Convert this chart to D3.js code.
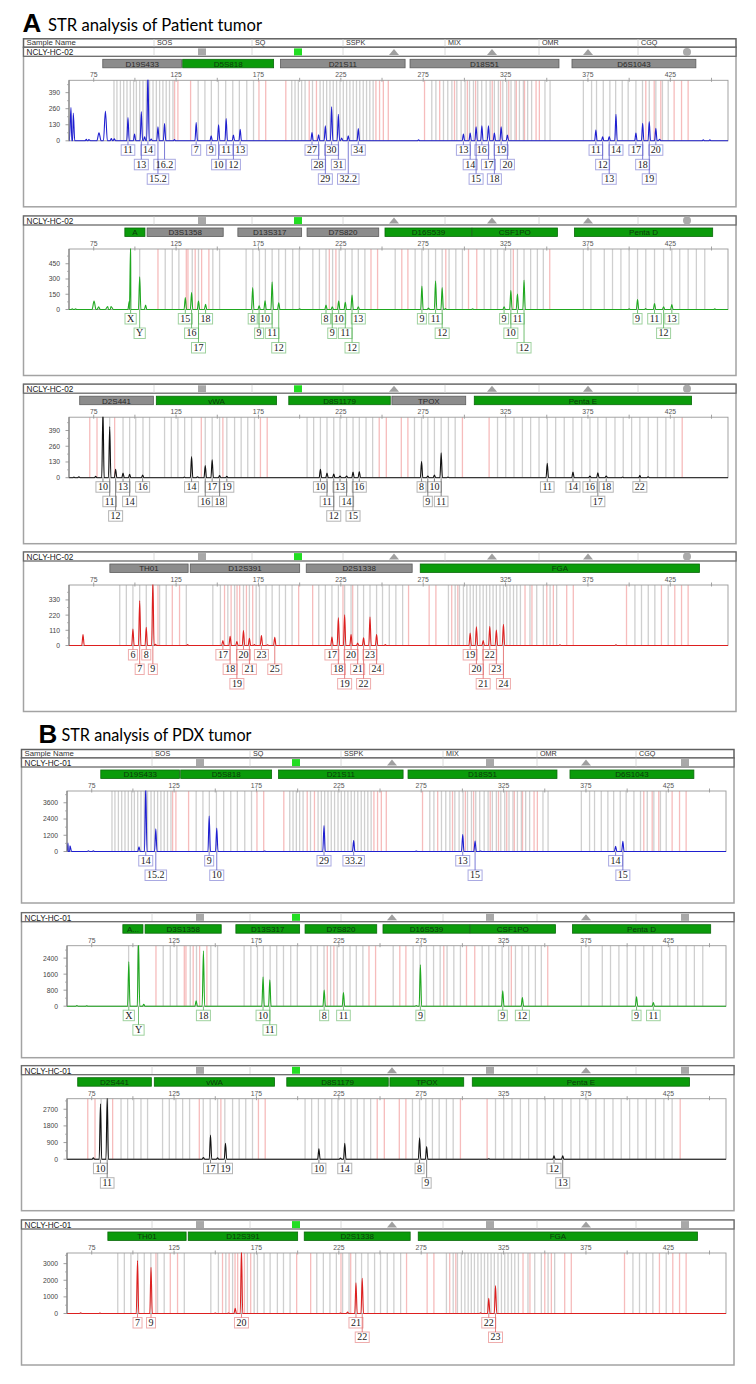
<!DOCTYPE html>
<html><head><meta charset="utf-8">
<script src="https://cdn.jsdelivr.net/npm/d3@7"></script>
<style>body{margin:0;background:#fff}svg{display:block}</style>
</head><body>
<svg id="c" width="756" height="1384"></svg>
<script>
// ---------------- DATA ----------------
const headerCols = ["SOS","SQ","SSPK","MIX","OMR","CGQ"];
const headerFlagsA = ["sqGrey","sqGreen","tri","tri","tri","circle"];
const headerFlagsB = ["sqGrey","sqGreen","tri","sqGrey","tri","sqGrey"];
const xTickLabels = [75,125,175,225,275,325,375,425];
const xTickMinor = [100,150,200,250,300,350,400,450];

// loci: [name, start bp, end bp]
const lociBlue  = [["D19S433",80.5,128.3],["D5S818",129,184.2],["D21S11",188.4,264],["D18S51",267,357.4],["D6S1043",365.3,440.5]];
const lociGreen = [["A",93.9,106.1],["D3S1358",107.4,153.6],["D13S317",162.5,201.2],["D7S820",204.5,248],["D16S539",251.8,304.5],["CSF1PO",304.7,356.5],["Penta D",366.8,450.7]];
const lociBlack = [["D2S441",66.5,111.2],["vWA",113,186],["D8S1179",193.4,255],["TPOX",256,300.8],["Penta E",306,437.9]];
const lociRed   = [["TH01",84.8,132.3],["D12S391",133.6,200],["D2S1338",204,268.3],["FGA",273.2,442.7]];
const passedA1 = ["D5S818"];
const passedA2 = ["A","D16S539","CSF1PO","Penta D"];
const passedA3 = ["vWA","D8S1179","Penta E"];
const passedA4 = ["FGA"];
const shortNamesB = {"A":"A..."};

// allele bins (bp)
const binsBlueGrey = [87.3,89.1,91.2,93.2,95.2,97.2,99.2,100.9,102.9,104.9,106.9,108.9,111,113,115,117,119,121,123.1,
  138.4,142.5,146.4,150.7,155.1,159.4,163.4,167.9,172,
  195.2,197.2,199.2,201.2,203.3,207.8,212.4,214.4,216.4,218.4,220.4,222.4,224.5,226.5,228.5,230.5,232.5,234.5,236.5,238.6,240.6,242.6,244.6,
  280.2,282.7,287.3,289.9,292.4,295.4,298,300.4,303.1,305.5,308.1,310.5,313.2,315.6,318.2,320.6,323.3,325.7,328.3,330.7,333.4,335.8,338.4,340.8,348.9,352,
  372.2,377.2,380.2,384.3,388.3,391.8,395.8,399.4,404.1,408.1,412.2,416.2,420.2,423.7];
const binsBluePink = [124.1,126.1,133.8,175.3,179.4,191.6,205.8,210.2,246.3,248.5,250.8,253.8,
  275.8,285,294,301.8,306.8,316.9,321.9,326.9,331.5,336.5,343.5,345.5,410.1,415.2,419.2,427.3,431.8,435.8];
const binsGreenGrey = [97.4,102.9,118.4,122.7,126.7,134.8,138.6,147.3,151.4,167.5,171.6,175.6,179.2,183.3,187.3,191.4,195.8,199.8,
  208,212,216,220,224,227.7,231.8,235.6,239.6,258,270.1,274.2,278.2,282.5,286.5,290.7,294.8,298.8,
  312,316,320.1,324.1,328.1,332.2,336.2,340.2,344.3,347.9,372.2,376.8,384.9,389.9,395,400,405.1,410.1,415.4,420.9,425.9,430.7,435.8,440.8,445.9];
const binsGreenPink = [114,131.2,132.2,136.6,140.5,144.9,218,222,243.3,247.3,262,265.7,288.7,302.5,307.5,329.7,351.8];
const binsBlackGrey = [80.7,84.7,92.8,96.8,100.5,104.9,108.9,118,122.1,126.1,130.2,134.4,142.7,146.9,151.4,155.8,160.5,164.5,168.5,172.6,
  204.5,208.5,212.6,216.6,220.7,224.5,228.5,232.4,236.2,240.3,244.3,269.7,274,277.8,281.8,285.9,290.3,294.4,
  320.1,325.1,330.1,335.2,340.2,345.3,350.3,355.4,360.6,365.9,371.2,376.2,381,386.1,391.4,396.4,401.5,406.5,411.6,417.2,422.3,427.3];
const binsBlackPink = [72.6,77,87.7,140.3,153.4,176.2,180.3,248.3,252.6,261.7,265.7,298.8,315,432.2];
const binsRedGrey = [90.8,94.8,98.8,102.9,106.9,110.9,115,119,131.2,147.3,151.9,156.4,160.5,165.9,169.5,173.6,175.6,179.6,183.3,187.7,191.4,195.4,
  211.6,215.6,219.6,223.5,227.3,231.2,235.2,238.8,242.7,246.7,250.3,254.4,258.4,262.5,
  290.3,294.4,297,299.4,301.5,303.5,305.4,307.3,309.4,311.4,313.4,315.4,317.4,319.4,321.6,323.7,325.7,327.7,329.8,331.8,334,339.8,343.9,347.9,352,356,
  403.5,407.5,411.6,415.6,423.7];
const binsRedPink = [114,122.7,127.1,154.4,158.4,162,163.6,167.7,171.5,199.4,207.9,226.3,232.2,266.1,278.6,282.7,292.3,296,336.8,341,350,354,362.1,366.1,398.4,419.6,427.7,431.8,435.8];

// peaks: [bp, height, (half-width bp)]
const peaksA1 = [[61.2,270,1],[62.6,225,0.9],[70.6,12,1],[72,10,1],[78.2,65,1.3],[82.1,240,1.2],[85.7,18,0.8],[87.5,16,0.8],[95.8,188],[99.8,54],[103.9,236],[105.9,32],[107.9,560],[109.9,15],[114,113],[118,139],[124,10],[137.2,147],[146.3,40],[150.8,129],[155.4,180],[159.8,46],[163.9,94],[207.5,67],[211.5,48],[215.6,121],[219.4,276],[223.5,214],[225.5,22],[229.5,40],[235.6,99],[272.2,8],[299.4,54],[303.5,62],[307.1,113],[310.6,121],[314.6,121],[318.2,62],[322.3,113],[326.1,46],[379.8,88],[383.9,32],[387.9,35],[392,214],[404.1,62],[408.2,142],[412.2,155],[416.2,102],[418.5,12],[445,8],[449,8]];
const peaksA2 = [[62,8],[64,8],[75.2,82,1.2],[78,26,1],[83.5,30,1.5],[85.5,30,1.5],[96.6,80,0.9],[97.4,640],[102.9,321],[106.5,43],[130.6,118],[134.4,167],[138.6,82],[142.9,52],[171.5,216],[175.4,36],[179,85],[183.3,272],[187.3,66],[200,8],[216,43],[219.8,26],[223.7,82],[227.7,72],[231.8,141],[235.6,26],[274.2,230],[278.2,15],[282.5,282],[286.5,216],[288.5,10],[305,8],[324.1,26],[328.2,190],[332.2,151],[336.2,289],[400,8],[405.1,98],[410,10],[415.4,59],[420.9,26],[425.9,49],[452,6]];
const peaksA3 = [[63,6],[66,8],[76.2,12],[80.6,560],[84.7,423],[88.3,69],[92.8,39],[96.8,28],[104.7,22],[130,6],[134.4,174],[138,8],[142.7,100],[146.9,147],[151.4,17],[155.8,11],[212.6,69],[216.6,39],[220.7,30],[224.5,14],[228.5,14],[232.4,47],[236.2,50],[274,133],[277.8,14],[281.8,22],[285.9,205],[290,5],[350.3,119],[365.9,47],[376.2,14],[381,41],[386.1,14],[396,6],[406.5,17],[411.5,8]];
const peaksA4 = [[68.5,79],[98.8,119],[102.9,323],[106.9,131],[110.9,470],[112.5,8],[132,6],[153.4,36],[157.8,67],[161.9,29],[165.9,108],[169.5,53],[172.5,6],[176.8,72],[180.5,5],[184.9,60],[219.6,62],[223.5,203],[227.3,222],[231.2,79],[235.2,17],[238.8,55],[242.7,208],[246.7,79],[252,6],[303.5,91],[307.3,136],[311.4,36],[315.4,139],[319.4,112],[323.7,153],[358,5],[392,5]];
const peaksB1 = [[60.6,620,1],[61.8,420,1],[73,50],[76,60],[103.7,350],[107.8,4900],[113.9,1675],[146.3,2625],[150.9,1725],[180,40],[216,1925],[234,800],[272,30],[300.2,1250],[307.7,775],[311,40],[393,375],[397.4,750]];
const peaksB2 = [[66,30],[72,25],[97.5,2217],[103.4,3300],[106.6,100],[138.4,267],[142.8,2767],[179,1467],[183.1,1317],[216.1,800],[227.8,683],[272,30],[274.5,2067],[324.5,767],[336.4,433],[405.7,467],[415.9,183]];
const peaksB3 = [[76,80],[80.3,2990],[84.4,3400],[142.8,90],[147.1,1310],[151.4,70],[156.2,864],[212.9,556],[226,60],[228.6,864],[274,1150],[278.3,680],[316,25],[355.6,178],[360.9,178]];
const peaksB4 = [[68.3,40],[80,20],[102.8,3180],[111,2780],[150,20],[158,25],[162.1,320],[165.9,3900],[226,20],[230.3,90],[235.4,1840],[239.2,2120],[311,40],[316,920],[320.1,1680]];

// allele calls: [allele, bp, row]
const callsA1 = [["11",95.8,1],["13",103.9,2],["14",107.9,1],["16.2",118,2],["15.2",114,3],
  ["7",137.2,1],["9",146.3,1],["10",150.8,2],["11",155.4,1],["12",159.8,2],["13",163.9,1],
  ["27",207.5,1],["28",211.5,2],["29",215.6,3],["30",219.4,1],["31",223.5,2],["32.2",229.5,3],["34",235.6,1],
  ["13",299.4,1],["14",303.5,2],["15",307.1,3],["16",310.6,1],["17",314.6,2],["18",318.2,3],["19",322.3,1],["20",326.1,2],
  ["11",379.8,1],["12",383.9,2],["13",387.9,3],["14",392,1],["17",404.1,1],["18",408.2,2],["19",412.2,3],["20",416.2,1]];
const callsA2 = [["X",97.4,1],["Y",102.9,2],["15",130.6,1],["16",134.4,2],["17",138.6,3],["18",142.9,1],
  ["8",171.5,1],["9",175.4,2],["10",179,1],["11",183.3,2],["12",187.3,3],
  ["8",216,1],["9",219.8,2],["10",223.7,1],["11",227.7,2],["12",231.8,3],["13",235.6,1],
  ["9",274.2,1],["11",282.5,1],["12",286.5,2],["9",324.1,1],["10",328.2,2],["11",332.2,1],["12",336.2,3],
  ["9",405.1,1],["11",415.4,1],["12",420.9,2],["13",425.9,1]];
const callsA3 = [["10",80.6,1],["11",84.7,2],["12",88.3,3],["13",92.8,1],["14",96.8,2],["16",104.7,1],
  ["14",134.4,1],["16",142.7,2],["17",146.9,1],["18",151.4,2],["19",155.8,1],
  ["10",212.6,1],["11",216.6,2],["12",220.7,3],["13",224.5,1],["14",228.5,2],["15",232.4,3],["16",236.2,1],
  ["8",274,1],["9",277.8,2],["10",281.8,1],["11",285.9,2],
  ["11",350.3,1],["14",365.9,1],["16",376.2,1],["17",381,2],["18",386.1,1],["22",406.5,1]];
const callsA4 = [["6",98.8,1],["7",102.9,2],["8",106.9,1],["9",110.9,2],
  ["17",153.4,1],["18",157.8,2],["19",161.9,3],["20",165.9,1],["21",169.5,2],["23",176.8,1],["25",184.9,2],
  ["17",219.6,1],["18",223.5,2],["19",227.3,3],["20",231.2,1],["21",235.2,2],["22",238.8,3],["23",242.7,1],["24",246.7,2],
  ["19",303.5,1],["20",307.3,2],["21",311.4,3],["22",315.4,1],["23",319.4,2],["24",323.7,3]];
const callsB1 = [["14",107.8,1],["15.2",113.9,2],["9",146.3,1],["10",150.9,2],["29",216,1],["33.2",234,1],["13",300.2,1],["15",307.7,2],["14",393,1],["15",397.4,2]];
const callsB2 = [["X",97.5,1],["Y",103.4,2],["18",142.8,1],["10",179,1],["11",183.1,2],["8",216.1,1],["11",227.8,1],["9",274.5,1],["9",324.5,1],["12",336.4,1],["9",405.7,1],["11",415.9,1]];
const callsB3 = [["10",80.3,1],["11",84.4,2],["17",147.1,1],["19",156.2,1],["10",212.9,1],["14",228.6,1],["8",274,1],["9",278.3,2],["12",355.6,1],["13",360.9,2]];
const callsB4 = [["7",102.8,1],["9",111,1],["20",165.9,1],["21",235.4,1],["22",239.2,2],["22",316,1],["23",320.1,2]];

// y axis tick labels and top of scale
const yTicksA1 = [0,130,260,390], yMaxA1 = 490;
const yTicksA2 = [0,150,300,450], yMaxA2 = 595;
const yTicksA3 = [0,130,260,390], yMaxA3 = 500;
const yTicksA4 = [0,110,220,330], yMaxA4 = 438;
const yTicksB1 = [0,1200,2400,3600], yMaxB1 = 4470;
const yTicksB2 = [0,800,1600,2400], yMaxB2 = 3020;
const yTicksB3 = [0,900,1800,2700], yMaxB3 = 3270;
const yTicksB4 = [0,1000,2000,3000], yMaxB4 = 3640;

// ---------------- STYLE ----------------
const dyes = {
  blue:  {trace:"#1f1fd0", box:"#a9a9e2", link:"#5b5bcc"},
  green: {trace:"#1fa81f", box:"#9fd29f", link:"#4fae4f"},
  black: {trace:"#111111", box:"#b4b4b4", link:"#666666"},
  red:   {trace:"#dd1f1f", box:"#efadad", link:"#e06060"}
};
const SANS = "'Liberation Sans', Arial, sans-serif";
const SERIF = "'Liberation Serif', 'Times New Roman', serif";

const svg = d3.select("#c");
let clipId = 0;

function headerMark(g, kind, cx, cy) {
  if (kind === "sqGrey") g.append("rect").attr("x",cx-4).attr("y",cy-3.5).attr("width",8).attr("height",7).attr("fill","#a8a8a8");
  else if (kind === "sqGreen") g.append("rect").attr("x",cx-4).attr("y",cy-3.5).attr("width",8).attr("height",7).attr("fill","#22dd22");
  else if (kind === "tri") g.append("path").attr("d",`M${cx-5},${cy+3}L${cx},${cy-3}L${cx+5},${cy+3}Z`).attr("fill","#a0a0a0");
  else g.append("circle").attr("cx",cx).attr("cy",cy).attr("r",4).attr("fill","#aaaaaa");
}

function drawPanel(p) {
  const g = svg.append("g");
  const T = p.T;
  const colX = [154,252,343,445,539,638].map(v=>v+p.dx);
  const markX = [202,298,394,492,588,687].map(v=>v+p.dx);
  const x = d3.scaleLinear().domain([60,460]).range([p.px0,p.px1]);
  const yTop = T+33, yBase = T+93.5;
  const y = d3.scaleLinear().domain([0,p.yMax]).range([yBase,yTop]);

  // outer panel box
  g.append("rect").attr("x",p.x0).attr("y",T).attr("width",p.x1-p.x0).attr("height",p.H)
    .attr("fill","none").attr("stroke","#a3a3a3").attr("stroke-width",1.5);

  // sample-name header (first panel only)
  if (p.first) {
    g.append("rect").attr("x",p.x0).attr("y",T-8.5).attr("width",p.x1-p.x0).attr("height",8.5)
      .attr("fill","#fff").attr("stroke","#606060").attr("stroke-width",1.5);
    g.append("text").attr("x",p.x0+3).attr("y",T-2).text("Sample Name")
      .attr("font-family",SANS).attr("font-size",7.8).attr("fill","#333");
    headerCols.forEach((c,i)=>{
      g.append("line").attr("x1",colX[i]).attr("x2",colX[i]).attr("y1",T-8).attr("y2",T).attr("stroke","#d8d8d8");
      g.append("text").attr("x",colX[i]+3).attr("y",T-2).text(c).attr("font-family",SANS).attr("font-size",7.2).attr("fill","#333");
    });
  }
  // sample row
  g.append("rect").attr("x",p.x0).attr("y",T).attr("width",p.x1-p.x0).attr("height",9)
    .attr("fill","#fff").attr("stroke","#6a6a6a").attr("stroke-width",1.3);
  colX.forEach(cx=>g.append("line").attr("x1",cx).attr("x2",cx).attr("y1",T+0.7).attr("y2",T+8.3).attr("stroke","#dadada"));
  g.append("text").attr("x",p.x0+3).attr("y",T+7.8).text(p.sample)
    .attr("font-family",SANS).attr("font-size",8.2).attr("fill","#222");
  p.flags.forEach((f,i)=>headerMark(g,f,markX[i],T+4.6));

  // loci bars
  p.loci.forEach(([name,a,b])=>{
    const ok = p.passed === "all" || p.passed.includes(name);
    g.append("rect").attr("x",x(a)).attr("y",T+12).attr("width",x(b)-x(a)).attr("height",8.5)
      .attr("fill", ok ? "#0b9b0b" : "#8c8c8c").attr("stroke", ok ? "#0a6a0a" : "#5c5c5c").attr("stroke-width",0.8);
    const label = (p.short && p.short[name]) || name;
    g.append("text").attr("x",(x(a)+x(b))/2).attr("y",T+19.3).attr("text-anchor","middle").text(label)
      .attr("font-family",SANS).attr("font-size",8).attr("fill", ok ? "#0c3a0c" : "#2a2a2a");
  });

  // top axis (size ruler)
  xTickLabels.forEach(v=>{
    g.append("text").attr("x",x(v)).attr("y",T+30).attr("text-anchor","middle").text(v)
      .attr("font-family",SANS).attr("font-size",6.8).attr("fill","#555");
  });
  xTickLabels.concat(xTickMinor).forEach(v=>{
    g.append("line").attr("x1",x(v)).attr("x2",x(v)).attr("y1",yTop-2.5).attr("y2",yTop+1.5).attr("stroke","#8a8a8a").attr("stroke-width",0.8);
  });

  // bins
  const bw = 1.3;
  p.binsG.forEach(b=>g.append("line").attr("x1",x(b)).attr("x2",x(b)).attr("y1",yTop).attr("y2",yBase)
    .attr("stroke","#cfcfcf").attr("stroke-width",bw));
  p.binsP.forEach(b=>g.append("line").attr("x1",x(b)).attr("x2",x(b)).attr("y1",yTop).attr("y2",yBase)
    .attr("stroke","#f6bcbc").attr("stroke-width",bw));

  // plot frame
  g.append("rect").attr("x",p.px0).attr("y",yTop).attr("width",p.px1-p.px0).attr("height",yBase-yTop)
    .attr("fill","none").attr("stroke","#9a9a9a").attr("stroke-width",0.9);

  // trace
  const id = "clip"+(clipId++);
  g.append("clipPath").attr("id",id).append("rect").attr("x",p.px0).attr("y",yTop-0.5)
    .attr("width",p.px1-p.px0).attr("height",yBase-yTop+1.5);
  const pts = [[60,0],[460,0]];
  p.peaks.forEach(([bp,h,w])=>{ w = w||0.75; pts.push([bp-w,0],[bp,h],[bp+w,0]); });
  pts.sort((a,b)=>a[0]-b[0]);
  const line = d3.line().x(d=>x(d[0])).y(d=>y(d[1])).curve(d3.curveMonotoneX);
  g.append("path").attr("d",line(pts)).attr("clip-path",`url(#${id})`)
    .attr("fill","none").attr("stroke",dyes[p.dye].trace).attr("stroke-width",1.1);

  // left axis
  const step = p.yTicks[1]-p.yTicks[0];
  g.append("line").attr("x1",p.px0).attr("x2",p.px0).attr("y1",yTop).attr("y2",yBase).attr("stroke","#777").attr("stroke-width",1);
  p.yTicks.forEach(v=>{
    g.append("line").attr("x1",p.px0-3.5).attr("x2",p.px0).attr("y1",y(v)).attr("y2",y(v)).attr("stroke","#888").attr("stroke-width",0.8);
    g.append("text").attr("x",p.px0-9).attr("y",y(v)+2.4).attr("text-anchor","end").text(v)
      .attr("font-family",SANS).attr("font-size",6.8).attr("fill","#444");
  });
  for (let v = step/2; v < p.yMax; v += step) {
    if (p.yTicks.includes(v)) continue;
    g.append("line").attr("x1",p.px0-2).attr("x2",p.px0).attr("y1",y(v)).attr("y2",y(v)).attr("stroke","#999").attr("stroke-width",0.7);
  }

  // allele call boxes
  const rowTop = [T+97.5, T+112, T+126.5];
  const dy = dyes[p.dye];
  p.calls.forEach(([al,bp,row])=>{
    g.append("line").attr("x1",x(bp)).attr("x2",x(bp)).attr("y1",yBase+0.5).attr("y2",rowTop[row-1])
      .attr("stroke",dy.link).attr("stroke-width",0.8);
  });
  p.calls.forEach(([al,bp,row])=>{
    const t = g.append("text").attr("x",x(bp)).attr("y",rowTop[row-1]+8.3).attr("text-anchor","middle").text(al)
      .attr("font-family",SERIF).attr("font-size",10).attr("fill","#222");
    const w = t.node().getComputedTextLength()+4;
    g.insert("rect","text").attr("x",x(bp)-w/2).attr("y",rowTop[row-1]).attr("width",w).attr("height",10.5)
      .attr("fill","#fff").attr("stroke",dy.box).attr("stroke-width",1);
  });
}

// titles
function title(letter, text, lx, ly, tx, ty, len) {
  svg.append("text").attr("x",lx).attr("y",ly).text(letter).attr("font-family",SANS).attr("font-weight","bold")
    .attr("font-size",26).attr("fill","#000");
  svg.append("text").attr("x",tx).attr("y",ty).text(text).attr("font-family","Lato, 'Open Sans', sans-serif")
    .attr("font-size",17).attr("fill","#000").attr("textLength",len).attr("lengthAdjust","spacingAndGlyphs");
}
title("A","STR analysis of Patient tumor",22.5,32.3,48,30.7,214);
title("B","STR analysis of PDX tumor",38.5,743.3,61.5,741,190);

const secA = {x0:23.5, x1:736, px0:69, px1:728, dx:0, H:159.5, sample:"NCLY-HC-02", flags:headerFlagsA};
const secB = {x0:21.5, x1:734, px0:67, px1:726, dx:-2, H:145, sample:"NCLY-HC-01", flags:headerFlagsB, short:shortNamesB};

drawPanel({...secA, T:47.3, first:true, loci:lociBlue, passed:passedA1, binsG:binsBlueGrey, binsP:binsBluePink, peaks:peaksA1, calls:callsA1, yTicks:yTicksA1, yMax:yMaxA1, dye:"blue"});
drawPanel({...secA, T:216, loci:lociGreen, passed:passedA2, binsG:binsGreenGrey, binsP:binsGreenPink, peaks:peaksA2, calls:callsA2, yTicks:yTicksA2, yMax:yMaxA2, dye:"green"});
drawPanel({...secA, T:384.2, loci:lociBlack, passed:passedA3, binsG:binsBlackGrey, binsP:binsBlackPink, peaks:peaksA3, calls:callsA3, yTicks:yTicksA3, yMax:yMaxA3, dye:"black"});
drawPanel({...secA, T:552, loci:lociRed, passed:passedA4, binsG:binsRedGrey, binsP:binsRedPink, peaks:peaksA4, calls:callsA4, yTicks:yTicksA4, yMax:yMaxA4, dye:"red"});

drawPanel({...secB, T:758, first:true, loci:lociBlue, passed:"all", binsG:binsBlueGrey, binsP:binsBluePink, peaks:peaksB1, calls:callsB1, yTicks:yTicksB1, yMax:yMaxB1, dye:"blue"});
drawPanel({...secB, T:912.7, loci:lociGreen, passed:"all", binsG:binsGreenGrey, binsP:binsGreenPink, peaks:peaksB2, calls:callsB2, yTicks:yTicksB2, yMax:yMaxB2, dye:"green"});
drawPanel({...secB, T:1065.7, loci:lociBlack, passed:"all", binsG:binsBlackGrey, binsP:binsBlackPink, peaks:peaksB3, calls:callsB3, yTicks:yTicksB3, yMax:yMaxB3, dye:"black"});
drawPanel({...secB, T:1220, loci:lociRed, passed:"all", binsG:binsRedGrey, binsP:binsRedPink, peaks:peaksB4, calls:callsB4, yTicks:yTicksB4, yMax:yMaxB4, dye:"red"});
</script>
</body></html>
